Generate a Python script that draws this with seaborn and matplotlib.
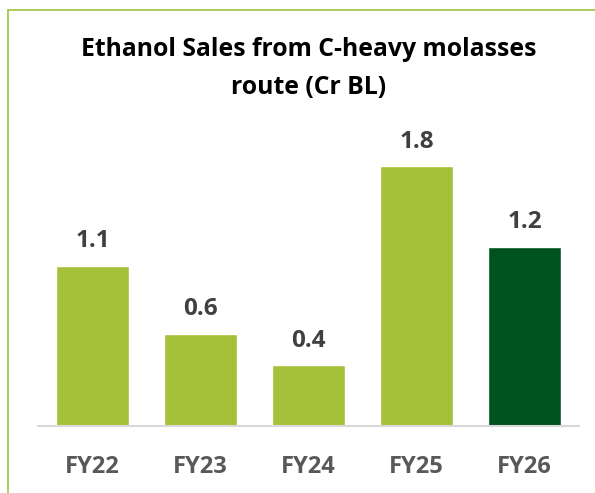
import pandas as pd
import matplotlib
matplotlib.use("Agg")
import matplotlib.pyplot as plt
import seaborn as sns
from matplotlib.lines import Line2D

# Chart data
years = ['FY22', 'FY23', 'FY24', 'FY25', 'FY26']
sales = [1.11, 0.64, 0.42, 1.80, 1.24]
labels = ['1.1', '0.6', '0.4', '1.8', '1.2']
bar_colors = ['#A4C139', '#A4C139', '#A4C139', '#A4C139', '#00531F']

df = pd.DataFrame({'Year': years, 'Sales': sales})

sns.set_style('white')
plt.rcParams['font.family'] = ['Open Sans', 'DejaVu Sans']

fig = plt.figure(figsize=(5.95, 4.93), dpi=100)
ax = fig.add_axes([38 / 595, 67 / 493, 541 / 595, 326 / 493])

sns.barplot(data=df, x='Year', y='Sales', hue='Year', palette=bar_colors,
            width=0.676, saturation=1, legend=False, ax=ax)

ax.set_xlim(-0.505, 4.505)
ax.set_ylim(0, 2.257)

for i, (v, lab) in enumerate(zip(sales, labels)):
    ax.annotate(lab, (i, v), xytext=(0, 9), textcoords='offset points',
                ha='center', va='bottom', fontsize=17.5, fontweight='bold',
                color='#404040')

ax.set_xlabel('')
ax.set_ylabel('')
ax.set_yticks([])
ax.tick_params(axis='x', length=0, pad=21, labelsize=17, labelcolor='#595959')
for t in ax.get_xticklabels():
    t.set_fontweight('bold')

for side in ['top', 'right', 'left']:
    ax.spines[side].set_visible(False)
ax.spines['bottom'].set_color('#D9D9D9')
ax.spines['bottom'].set_linewidth(1.5)

fig.text(309 / 595, 1 - 50 / 493, 'Ethanol Sales from C-heavy molasses',
         ha='center', va='center', fontsize=17.8, fontweight='bold', color='black')
fig.text(309 / 595, 1 - 87 / 493, 'route (Cr BL)',
         ha='center', va='center', fontsize=17.8, fontweight='bold', color='black')

# outer frame (top and left edges visible)
fig.add_artist(Line2D([8 / 595, 1.0], [1 - 10 / 493, 1 - 10 / 493],
                      transform=fig.transFigure, color='#9BC53D', linewidth=1.2))
fig.add_artist(Line2D([8 / 595, 8 / 595], [0, 1 - 10 / 493],
                      transform=fig.transFigure, color='#9BC53D', linewidth=1.2))

fig.savefig('out.png', dpi=100)
